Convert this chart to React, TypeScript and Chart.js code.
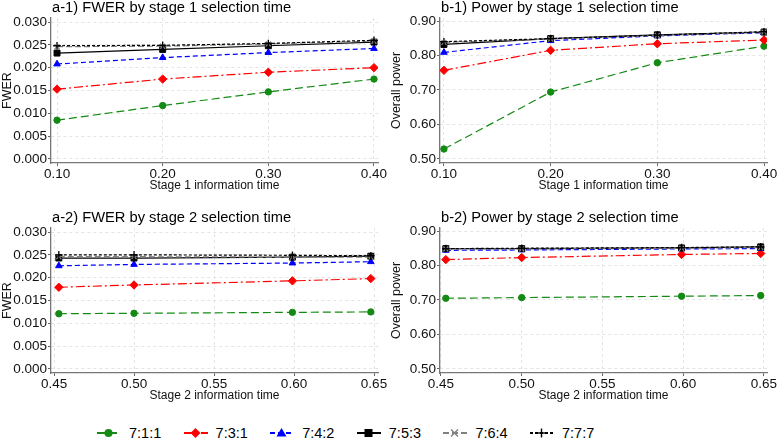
import React, { useEffect, useRef } from "react";
import { Chart, registerables } from "chart.js";

Chart.register(...registerables);

const FONT = "'Liberation Sans', Arial, Helvetica, sans-serif";

const seriesLabels = ["7:1:1", "7:3:1", "7:4:2", "7:5:3", "7:6:4", "7:7:7"];
const seriesColors = ["#148a14", "#ff0000", "#0000ff", "#000000", "#808080", "#000000"];
const seriesDash: number[][] = [[8, 4], [9, 3, 2, 3], [5, 3], [], [6, 3], [3, 2]];
const seriesMarkers = ["circle", "rectRot", "triangle", "rect", "crossRot", "cross"];
const seriesRadius = [3.2, 4.2, 3.8, 4.2, 3.5, 3.8];

const stage1Times = [0.1, 0.2, 0.3, 0.4];
const stage2Times = [0.453, 0.5, 0.599, 0.648];

const stage1Ticks = [0.1, 0.2, 0.3, 0.4];
const stage2Ticks = [0.45, 0.5, 0.55, 0.6, 0.65];
const fwerTicks = [0, 0.005, 0.01, 0.015, 0.02, 0.025, 0.03];
const powerTicks = [0.5, 0.6, 0.7, 0.8, 0.9];

const fwerStage1 = [
  [0.0085, 0.0117, 0.0147, 0.0175],
  [0.0153, 0.0175, 0.019, 0.02],
  [0.0208, 0.0222, 0.0233, 0.0242],
  [0.0232, 0.024, 0.0248, 0.0256],
  [0.0246, 0.0247, 0.0252, 0.0258],
  [0.0248, 0.0249, 0.0253, 0.026],
];
const powerStage1 = [
  [0.529, 0.694, 0.779, 0.827],
  [0.757, 0.815, 0.834, 0.845],
  [0.809, 0.843, 0.857, 0.866],
  [0.832, 0.849, 0.86, 0.868],
  [0.838, 0.848, 0.858, 0.868],
  [0.84, 0.849, 0.859, 0.869],
];
const fwerStage2 = [
  [0.0121, 0.0122, 0.0124, 0.0125],
  [0.0179, 0.0184, 0.0193, 0.0198],
  [0.0226, 0.0229, 0.0232, 0.0235],
  [0.0243, 0.0243, 0.0245, 0.0247],
  [0.0246, 0.0246, 0.0245, 0.0245],
  [0.025, 0.025, 0.0249, 0.0248],
];
const powerStage2 = [
  [0.705, 0.707, 0.711, 0.713],
  [0.817, 0.823, 0.832, 0.835],
  [0.844, 0.845, 0.848, 0.849],
  [0.849, 0.849, 0.851, 0.854],
  [0.848, 0.848, 0.85, 0.852],
  [0.849, 0.85, 0.852, 0.854],
];

type PanelProps = {
  left: number;
  top: number;
  title: string;
  xTitle: string;
  yTitle: string;
  xs: number[];
  series: number[][];
  xTicks: number[];
  yTicks: number[];
  xMin: number;
  xMax: number;
  yMin: number;
  yMax: number;
  xDec: number;
  yDec: number;
};

const W = 389;
const H = 205;

function Panel(p: PanelProps) {
  const ref = useRef<HTMLCanvasElement | null>(null);
  useEffect(() => {
    if (!ref.current) return;
    const titlePlugin = {
      id: "panelTitle",
      afterDraw(chart: any) {
        const ctx = chart.ctx;
        ctx.save();
        ctx.font = `14.7px ${FONT}`;
        ctx.fillStyle = "#000";
        ctx.textBaseline = "middle";
        ctx.textAlign = "left";
        ctx.fillText(p.title, chart.chartArea.left + 1, 8);
        ctx.restore();
      },
    };
    const chart = new Chart(ref.current, {
      type: "line",
      data: {
        datasets: p.series.map((vals, i) => ({
          label: seriesLabels[i],
          data: p.xs.map((x, j) => ({ x, y: vals[j] })),
          borderColor: seriesColors[i],
          backgroundColor: seriesColors[i],
          borderDash: seriesDash[i],
          borderWidth: 1.2,
          pointStyle: seriesMarkers[i] as any,
          pointRadius: seriesRadius[i],
          pointBorderWidth: i >= 4 ? 1.3 : 1,
          pointBackgroundColor: seriesColors[i],
          pointBorderColor: seriesColors[i],
          fill: false,
          tension: 0,
          order: 5 - i,
        })),
      },
      options: {
        animation: false,
        responsive: false,
        devicePixelRatio: 1,
        layout: { padding: { top: 18, right: 11, left: 0, bottom: H - 163 - 31 } },
        plugins: {
          legend: { display: false },
          tooltip: { enabled: false },
          title: { display: false },
        },
        scales: {
          x: {
            type: "linear",
            min: p.xMin,
            max: p.xMax,
            afterBuildTicks: (s: any) => {
              s.ticks = p.xTicks.map((v) => ({ value: v }));
            },
            afterFit: (s: any) => {
              s.height = 31;
            },
            ticks: {
              callback: (v: any) => Number(v).toFixed(p.xDec),
              font: { family: FONT, size: 13.5 },
              color: "#111",
              padding: 0,
              maxRotation: 0,
              autoSkip: false,
            },
            grid: {
              color: "#e4e4e4",
              lineWidth: 1,
              tickLength: 3,
              tickColor: "#666",
              tickWidth: 1,
            },
            border: { color: "#777", width: 1.3, dash: [3, 3] },
            title: {
              display: true,
              text: p.xTitle,
              font: { family: FONT, size: 12 },
              color: "#111",
              padding: { top: 0, bottom: 1 },
            },
          },
          y: {
            type: "linear",
            min: p.yMin,
            max: p.yMax,
            afterBuildTicks: (s: any) => {
              s.ticks = p.yTicks.map((v) => ({ value: v }));
            },
            afterFit: (s: any) => {
              s.width = 51;
            },
            ticks: {
              callback: (v: any) => Number(v).toFixed(p.yDec),
              font: { family: FONT, size: 13.5 },
              color: "#111",
              padding: 1,
              autoSkip: false,
            },
            grid: {
              color: "#e4e4e4",
              lineWidth: 1,
              tickLength: 3,
              tickColor: "#666",
              tickWidth: 1,
            },
            border: { color: "#777", width: 1.3, dash: [3, 3] },
            title: {
              display: true,
              text: p.yTitle,
              font: { family: FONT, size: 12.5 },
              color: "#111",
              padding: { top: 0, bottom: 0 },
            },
          },
        },
      } as any,
      plugins: [titlePlugin],
    });
    return () => chart.destroy();
  }, []);
  return (
    <canvas
      ref={ref}
      width={W}
      height={H}
      style={{ position: "absolute", left: p.left, top: p.top, width: W, height: H }}
    />
  );
}

function LegendIcon({ i }: { i: number }) {
  const c = seriesColors[i];
  const cx = 12.5;
  const cy = 7;
  let marker: React.ReactNode = null;
  if (i === 0) marker = <circle cx={cx} cy={cy} r={4} fill={c} />;
  if (i === 1) marker = <polygon points={`${cx},${cy - 5} ${cx + 5},${cy} ${cx},${cy + 5} ${cx - 5},${cy}`} fill={c} />;
  if (i === 2) marker = <polygon points={`${cx},${cy - 5} ${cx + 5},${cy + 3.5} ${cx - 5},${cy + 3.5}`} fill={c} />;
  if (i === 3) marker = <rect x={cx - 4} y={cy - 4} width={8} height={8} fill={c} />;
  if (i === 4)
    marker = (
      <g stroke={c} strokeWidth={1.4}>
        <line x1={cx - 3.5} y1={cy - 3.5} x2={cx + 3.5} y2={cy + 3.5} />
        <line x1={cx - 3.5} y1={cy + 3.5} x2={cx + 3.5} y2={cy - 3.5} />
      </g>
    );
  if (i === 5)
    marker = (
      <g stroke={c} strokeWidth={1.4}>
        <line x1={cx - 4.5} y1={cy} x2={cx + 4.5} y2={cy} />
        <line x1={cx} y1={cy - 4.5} x2={cx} y2={cy + 4.5} />
      </g>
    );
  return (
    <svg width={26} height={14} style={{ display: "block" }}>
      <line
        x1={1}
        y1={cy}
        x2={25}
        y2={cy}
        stroke={c}
        strokeWidth={2}
        strokeDasharray={seriesDash[i].length ? seriesDash[i].join(" ") : undefined}
      />
      {marker}
    </svg>
  );
}

export default function App() {
  return (
    <div
      style={{
        position: "absolute",
        left: 0,
        top: 0,
        width: 778,
        height: 440,
        background: "#fff",
        overflow: "hidden",
      }}
    >
      <Panel
        left={0}
        top={0}
        title="a-1) FWER by stage 1 selection time"
        xTitle="Stage 1 information time"
        yTitle="FWER"
        xs={stage1Times}
        series={fwerStage1}
        xTicks={stage1Ticks}
        yTicks={fwerTicks}
        xMin={0.0943}
        xMax={0.4038}
        yMin={-0.00088}
        yMax={0.03088}
        xDec={2}
        yDec={3}
      />
      <Panel
        left={389}
        top={0}
        title="b-1) Power by stage 1 selection time"
        xTitle="Stage 1 information time"
        yTitle="Overall power"
        xs={stage1Times}
        series={powerStage1}
        xTicks={stage1Ticks}
        yTicks={powerTicks}
        xMin={0.0963}
        xMax={0.4028}
        yMin={0.4884}
        yMax={0.9087}
        xDec={2}
        yDec={2}
      />
      <Panel
        left={0}
        top={210}
        title="a-2) FWER by stage 2 selection time"
        xTitle="Stage 2 information time"
        yTitle="FWER"
        xs={stage2Times}
        series={fwerStage2}
        xTicks={stage2Ticks}
        yTicks={fwerTicks}
        xMin={0.4481}
        xMax={0.6525}
        yMin={-0.00088}
        yMax={0.03088}
        xDec={2}
        yDec={3}
      />
      <Panel
        left={389}
        top={210}
        title="b-2) Power by stage 2 selection time"
        xTitle="Stage 2 information time"
        yTitle="Overall power"
        xs={stage2Times}
        series={powerStage2}
        xTicks={stage2Ticks}
        yTicks={powerTicks}
        xMin={0.4494}
        xMax={0.6519}
        yMin={0.4884}
        yMax={0.9087}
        xDec={2}
        yDec={2}
      />
      {seriesLabels.map((lab, i) => (
        <div
          key={lab}
          style={{
            position: "absolute",
            left: 96 + i * 86.6,
            top: 423,
            display: "flex",
            alignItems: "center",
            height: 20,
            fontFamily: FONT,
            fontSize: 14.5,
            color: "#000",
          }}
        >
          <LegendIcon i={i} />
          <span style={{ marginLeft: 7 }}>{lab}</span>
        </div>
      ))}
    </div>
  );
}
